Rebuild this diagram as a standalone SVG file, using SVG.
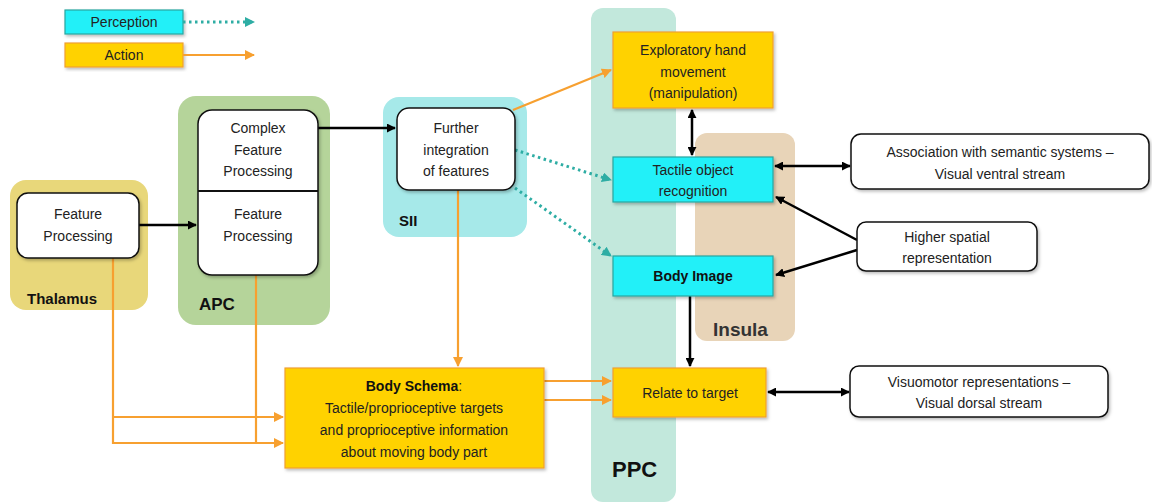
<svg xmlns="http://www.w3.org/2000/svg" width="1152" height="503" viewBox="0 0 1152 503">
<defs>
<filter id="sh" x="-10%" y="-10%" width="130%" height="130%"><feDropShadow dx="1.5" dy="2" stdDeviation="1.5" flood-color="#000" flood-opacity="0.25"/></filter>
<marker id="ab" viewBox="0 0 10 10" refX="9" refY="5" markerWidth="9" markerHeight="9" markerUnits="userSpaceOnUse" orient="auto-start-reverse"><path d="M0,0L10,5L0,10z" fill="#000"/></marker>
<marker id="ao" viewBox="0 0 10 10" refX="9" refY="5" markerWidth="10" markerHeight="10" markerUnits="userSpaceOnUse" orient="auto"><path d="M0,0L10,5L0,10z" fill="#F7A030"/></marker>
<marker id="at" viewBox="0 0 10 10" refX="9" refY="5" markerWidth="10" markerHeight="10" markerUnits="userSpaceOnUse" orient="auto"><path d="M0,0L10,5L0,10z" fill="#2EADA4"/></marker>
</defs>
<style>
text{font-family:"Liberation Sans",Arial,sans-serif;font-size:14px;fill:#222;text-anchor:middle}
.lbl{font-weight:bold;text-anchor:start;fill:#111}
.w{fill:#fff;stroke:#111;stroke-width:1.5}
.cy{fill:#22F0F8;stroke:#2AA6A0;stroke-width:1.2}
.ye{fill:#FFD200;stroke:#F0A030;stroke-width:1.2}
.blk{stroke:#000;stroke-width:2.5;fill:none}
.or{stroke:#F7A030;stroke-width:2.2;fill:none}
.tl{stroke:#2EADA4;stroke-width:3;fill:none;stroke-dasharray:2.5 3.5}
</style>
<rect width="1152" height="503" fill="#fff"/>
<g id="legend">
<rect x="65" y="10" width="118" height="24" class="cy" filter="url(#sh)"/>
<text x="124" y="27">Perception</text>
<rect x="65" y="43" width="118" height="24" class="ye" filter="url(#sh)"/>
<text x="124" y="60">Action</text>
</g>
<g id="regions">
<g id="thalamus"><rect x="10" y="180" width="138" height="130" rx="16" fill="#E8D77A"/><text x="27" y="304" class="lbl" style="font-size:15px">Thalamus</text></g>
<g id="apc"><rect x="178" y="96" width="152" height="229" rx="18" fill="#B5D49A"/><text x="199" y="310" class="lbl" style="font-size:17px">APC</text></g>
<g id="sii"><rect x="383" y="97" width="144" height="140" rx="16" fill="#A6E9E9"/><text x="399" y="226" class="lbl" style="font-size:15px">SII</text></g>
<g id="ppc"><rect x="591" y="8" width="85" height="494" rx="12" fill="#C2E8DC"/><text x="612" y="477" class="lbl" style="font-size:22px">PPC</text></g>
<g id="insula"><rect x="695" y="133" width="100" height="208" rx="12" fill="#E8D4B8"/><text x="713" y="336" class="lbl" style="font-size:19px;fill:#333">Insula</text></g>
</g>
<g id="connectors">
<line x1="183" y1="22" x2="254" y2="22" class="tl" marker-end="url(#at)"/>
<line x1="183" y1="55" x2="254" y2="55" class="or" marker-end="url(#ao)"/>
<line x1="139" y1="225" x2="196" y2="225" class="blk" marker-end="url(#ab)"/>
<line x1="318" y1="128" x2="395" y2="128" class="blk" marker-end="url(#ab)"/>
<line x1="513" y1="110" x2="611" y2="70" class="or" marker-end="url(#ao)"/>
<line x1="515" y1="150" x2="611" y2="180" class="tl" marker-end="url(#at)"/>
<line x1="515" y1="188" x2="611" y2="256" class="tl" marker-end="url(#at)"/>
<line x1="458" y1="190" x2="458" y2="366" class="or" marker-end="url(#ao)"/>
<polyline points="113,258 113,443 283,443" class="or" marker-end="url(#ao)"/>
<polyline points="113,417 283,417" class="or" marker-end="url(#ao)"/>
<line x1="256" y1="275" x2="256" y2="443" class="or"/>
<line x1="544" y1="381" x2="611" y2="381" class="or" marker-end="url(#ao)"/>
<line x1="544" y1="400" x2="611" y2="400" class="or" marker-end="url(#ao)"/>
<line x1="692" y1="110" x2="692" y2="155" class="blk" marker-start="url(#ab)" marker-end="url(#ab)"/>
<line x1="775" y1="166" x2="850" y2="166" class="blk" marker-start="url(#ab)" marker-end="url(#ab)"/>
<line x1="857" y1="240" x2="776" y2="197" class="blk" marker-end="url(#ab)"/>
<line x1="857" y1="250" x2="776" y2="275" class="blk" marker-end="url(#ab)"/>
<line x1="690" y1="296" x2="690" y2="366" class="blk" marker-end="url(#ab)"/>
<line x1="768" y1="392" x2="849" y2="392" class="blk" marker-start="url(#ab)" marker-end="url(#ab)"/>
</g>
<g id="thalamus-feature"><rect x="17" y="193" width="122" height="65" rx="11" class="w" filter="url(#sh)"/><text x="78" y="219">Feature</text><text x="78" y="241">Processing</text></g>
<g id="apc-box"><rect x="198" y="110" width="120" height="165" rx="14" class="w" filter="url(#sh)"/><line x1="198" y1="191" x2="318" y2="191" stroke="#111" stroke-width="2"/>
<text x="258" y="133">Complex</text><text x="258" y="155">Feature</text><text x="258" y="176">Processing</text>
<text x="258" y="219">Feature</text><text x="258" y="241">Processing</text></g>
<g id="further"><rect x="397" y="108" width="118" height="82" rx="12" class="w" filter="url(#sh)"/><text x="456" y="133">Further</text><text x="456" y="155">integration</text><text x="456" y="176">of features</text></g>
<g id="exploratory"><rect x="613" y="32" width="160" height="76" class="ye" filter="url(#sh)"/><text x="693" y="55">Exploratory  hand</text><text x="693" y="77">movement</text><text x="693" y="98">(manipulation)</text></g>
<g id="tactile"><rect x="613" y="157" width="160" height="45" class="cy" filter="url(#sh)"/><text x="693" y="175">Tactile object</text><text x="693" y="196">recognition</text></g>
<g id="bodyimage"><rect x="613" y="256" width="160" height="40" class="cy" filter="url(#sh)"/><text x="693" y="281" style="font-weight:bold;fill:#111">Body Image</text></g>
<g id="relate"><rect x="613" y="368" width="153" height="49" class="ye" filter="url(#sh)"/><text x="690" y="398">Relate to target</text></g>
<g id="bodyschema"><rect x="285" y="368" width="259" height="100" class="ye" filter="url(#sh)"/>
<text x="414" y="391"><tspan style="font-weight:bold;fill:#111">Body Schema</tspan>:</text>
<text x="414" y="413">Tactile/proprioceptive  targets</text>
<text x="414" y="435">and proprioceptive  information</text>
<text x="414" y="457">about moving body  part</text></g>
<g id="association"><rect x="851" y="134" width="298" height="55" rx="10" class="w" filter="url(#sh)"/><text x="1000" y="157">Association with  semantic systems –</text><text x="1000" y="179">Visual ventral stream</text></g>
<g id="higher"><rect x="857" y="222" width="180" height="49" rx="9" class="w" filter="url(#sh)"/><text x="947" y="242">Higher spatial</text><text x="947" y="263">representation</text></g>
<g id="visuomotor"><rect x="850" y="366" width="258" height="51" rx="9" class="w" filter="url(#sh)"/><text x="979" y="387">Visuomotor  representations  –</text><text x="979" y="408">Visual dorsal stream</text></g>
</svg>
